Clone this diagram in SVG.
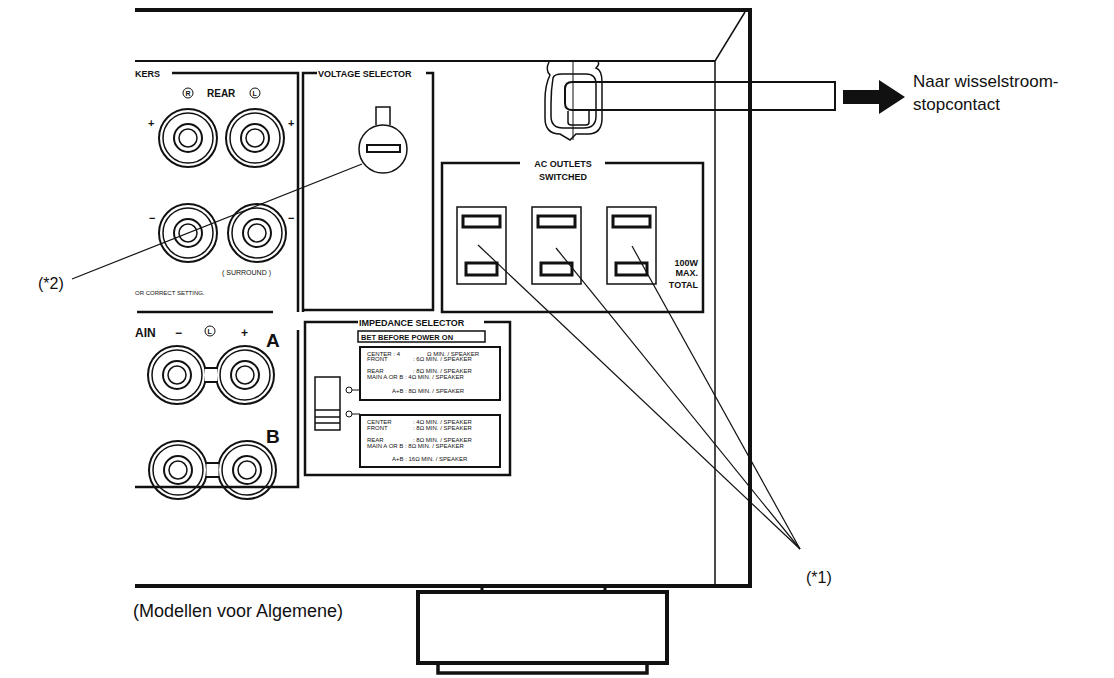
<svg xmlns="http://www.w3.org/2000/svg" width="1114" height="678" viewBox="0 0 1114 678">
<style>
.k{fill:none;stroke:#111;}
.t{font-family:"Liberation Sans",Arial,sans-serif;fill:#111;}
.b{font-family:"Liberation Sans",Arial,sans-serif;font-weight:bold;fill:#111;}
.s{font-family:"Liberation Sans",Arial,sans-serif;font-size:6px;fill:#111;}
</style>
<defs>
<g id="term"><circle r="29" class="k" stroke-width="2"/><circle r="25" class="k" stroke-width="1.5"/><circle r="14" class="k" stroke-width="2"/><circle r="9" class="k" stroke-width="1.5"/></g>
<g id="outlet"><rect x="0" y="0" width="49" height="77" class="k" stroke-width="1.5"/><rect x="6" y="9" width="37" height="11" class="k" stroke-width="3"/><rect x="9" y="56" width="31" height="12" class="k" stroke-width="3"/></g>
<g id="bridge"><rect x="-6" y="-6" width="12" height="12" fill="#fff"/><path d="M-7 -7 H7 M-7 7 H7" class="k" stroke-width="2"/></g>
</defs>
<rect width="1114" height="678" fill="#fff"/>
<g id="chassis">
<path d="M135 10 H750 V586 H135" class="k" stroke-width="4"/>
<line x1="135" y1="61" x2="715" y2="61" class="k" stroke-width="2"/>
<path d="M715 586 V61 L745 12" class="k" stroke="#777" stroke-width="1.5"/>
</g>
<g id="foot">
<line x1="482" y1="586" x2="482" y2="592" class="k" stroke-width="3"/>
<line x1="605" y1="586" x2="605" y2="592" class="k" stroke-width="3"/>
<rect x="418" y="592" width="249" height="71" class="k" stroke-width="4"/>
<rect x="438" y="663" width="209" height="10" class="k" stroke-width="3.5"/>
</g>
<g id="speakers">
<text x="135" y="77" class="b" font-size="9">KERS</text>
<path d="M172 73 H298 V312" class="k" stroke-width="2.5"/>
<circle cx="188" cy="93" r="5" class="k"/><text x="185.5" y="96" class="b" font-size="7">R</text>
<text x="207" y="97" class="b" font-size="10">REAR</text>
<circle cx="255" cy="93" r="5" class="k"/><text x="252.5" y="96" class="b" font-size="7">L</text>
<text x="148" y="127" class="b" font-size="11">+</text><text x="288" y="127" class="b" font-size="11">+</text>
<text x="149" y="222" class="b" font-size="11">−</text><text x="288" y="222" class="b" font-size="11">−</text>
<use href="#term" x="188" y="138"/><use href="#term" x="255" y="138"/>
<use href="#term" x="188" y="233"/><use href="#term" x="257" y="233"/>
<text x="222" y="275" class="t" font-size="7">( SURROUND )</text>
<text x="135" y="295" class="t" font-size="6">OR CORRECT SETTING.</text>
<line x1="137" y1="312" x2="273" y2="312" class="k" stroke-width="2.5"/>
</g>
<g id="main">
<path d="M135 487 H298 V330" class="k" stroke-width="2.5"/>
<text x="135" y="337" class="b" font-size="12">AIN</text>
<text x="175" y="337" class="b" font-size="12">−</text>
<circle cx="210" cy="331" r="5" class="k" stroke="#777"/><text x="207.5" y="334" class="b" font-size="7" fill="#777">L</text>
<text x="241" y="337" class="b" font-size="12">+</text>
<text x="266" y="347" class="b" font-size="19">A</text>
<text x="266" y="443" class="b" font-size="19">B</text>
<use href="#term" x="177" y="375"/><use href="#term" x="245" y="375"/>
<use href="#bridge" x="211" y="375"/>
<use href="#term" x="178" y="470"/><use href="#term" x="247" y="470"/>
<use href="#bridge" x="212.5" y="470"/>
</g>
<g id="voltage">
<path d="M303 312 V73 H317 M426 73 H433 V310 H303" class="k" stroke-width="2.5"/>
<text x="318" y="77" class="b" font-size="9">VOLTAGE SELECTOR</text>
<path d="M376 125 V107 H390 V125" class="k" stroke-width="1.5"/>
<circle cx="383" cy="149" r="24" fill="#fff" class="k" stroke-width="1.5"/>
<rect x="367" y="145" width="33" height="7" class="k" stroke-width="2"/>
</g>
<g id="impedance">
<path d="M358 322 H305 V475 H510 V322 H484" class="k" stroke-width="2.5"/>
<text x="359" y="326" class="b" font-size="9">IMPEDANCE SELECTOR</text>
<rect x="358" y="331" width="127" height="11" class="k" stroke-width="1.5"/>
<text x="361" y="340" class="b" font-size="7.5">BET BEFORE POWER ON</text>
<rect x="360" y="347" width="140" height="53" class="k" stroke-width="2"/>
<rect x="360" y="415" width="140" height="52" class="k" stroke-width="2"/>
<rect x="315" y="377" width="25" height="53" class="k" stroke-width="1.5"/>
<path d="M315 410 H340 M315 417 H340 M315 423 H340" class="k" stroke-width="1.5"/>
<circle cx="349" cy="390" r="3" class="k"/><line x1="352" y1="390" x2="360" y2="390" class="k"/>
<circle cx="349" cy="414" r="3" class="k"/><line x1="352" y1="414" x2="360" y2="414" class="k"/>
<text x="367" y="356" class="s">CENTER : 4</text><text x="427" y="356" class="s">Ω MIN. / SPEAKER</text>
<text x="367" y="361" class="s">FRONT</text><text x="413" y="361" class="s">: 6Ω MIN. / SPEAKER</text>
<text x="367" y="373" class="s">REAR</text><text x="413" y="373" class="s">: 8Ω MIN. / SPEAKER</text>
<text x="367" y="379" class="s">MAIN A OR B : 4Ω MIN. / SPEAKER</text>
<text x="392" y="393" class="s">A+B : 8Ω MIN. / SPEAKER</text>
<text x="367" y="424" class="s">CENTER</text><text x="413" y="424" class="s">: 4Ω MIN. / SPEAKER</text>
<text x="367" y="430" class="s">FRONT</text><text x="413" y="430" class="s">: 8Ω MIN. / SPEAKER</text>
<text x="367" y="442" class="s">REAR</text><text x="413" y="442" class="s">: 8Ω MIN. / SPEAKER</text>
<text x="367" y="448" class="s">MAIN A OR B : 8Ω MIN. / SPEAKER</text>
<text x="392" y="461" class="s">A+B : 16Ω MIN. / SPEAKER</text>
</g>
<g id="ac">
<path d="M520 163 H442 V312 H703 V163 H605" class="k" stroke-width="2.5"/>
<text x="563" y="167" class="b" font-size="9" text-anchor="middle">AC OUTLETS</text>
<text x="563" y="180" class="b" font-size="9" text-anchor="middle">SWITCHED</text>
<use href="#outlet" x="457" y="207"/><use href="#outlet" x="532" y="207"/><use href="#outlet" x="607" y="207"/>
<text x="698" y="266" class="b" font-size="9" text-anchor="end">100W</text>
<text x="698" y="276" class="b" font-size="9" text-anchor="end">MAX.</text>
<text x="698" y="288" class="b" font-size="9" text-anchor="end">TOTAL</text>
</g>
<g id="cord">
<path d="M549 62 Q545 70 550 75 Q545 85 545 100 V118 Q545 134 560 134 L570 140 L576 134 H588 Q602 134 602 118 V82 Q602 70 596 68 Q600 64 598 62" class="k" stroke-width="1.5"/>
<path d="M553 78 Q551 90 551 104 V116 Q551 128 563 128 H584 Q596 128 596 116 V84 Q596 74 586 74 H562 Q554 74 553 78Z" class="k" stroke-width="1.5"/>
<line x1="573" y1="62" x2="573" y2="140" class="k" stroke-width="1"/>
<path d="M568 111 V122 Q568 125 571 125 H586 Q589 125 589 122 V111" class="k" stroke-width="1.5"/>
<path d="M835 82 H572 Q565 82 565 89 V103 Q565 110 572 110 H835 Z" fill="#fff" class="k" stroke-width="2"/>
<path d="M843 90 H879 V80 L905 97 L879 114 V104 H843 Z" fill="#111"/>
<text x="913" y="87" class="t" font-size="17">Naar wisselstroom-</text>
<text x="913" y="110" class="t" font-size="17">stopcontact</text>
</g>
<g id="connectors" class="k" stroke-width="1.2">
<line x1="72" y1="279" x2="362" y2="164"/>
<line x1="478" y1="245" x2="800" y2="549"/>
<line x1="556" y1="248" x2="800" y2="549"/>
<line x1="632" y1="246" x2="800" y2="549"/>
</g>
<text x="38" y="289" class="t" font-size="16">(*2)</text>
<text x="806" y="583" class="t" font-size="16">(*1)</text>
<text x="133" y="617" class="t" font-size="18">(Modellen voor Algemene)</text>
</svg>
